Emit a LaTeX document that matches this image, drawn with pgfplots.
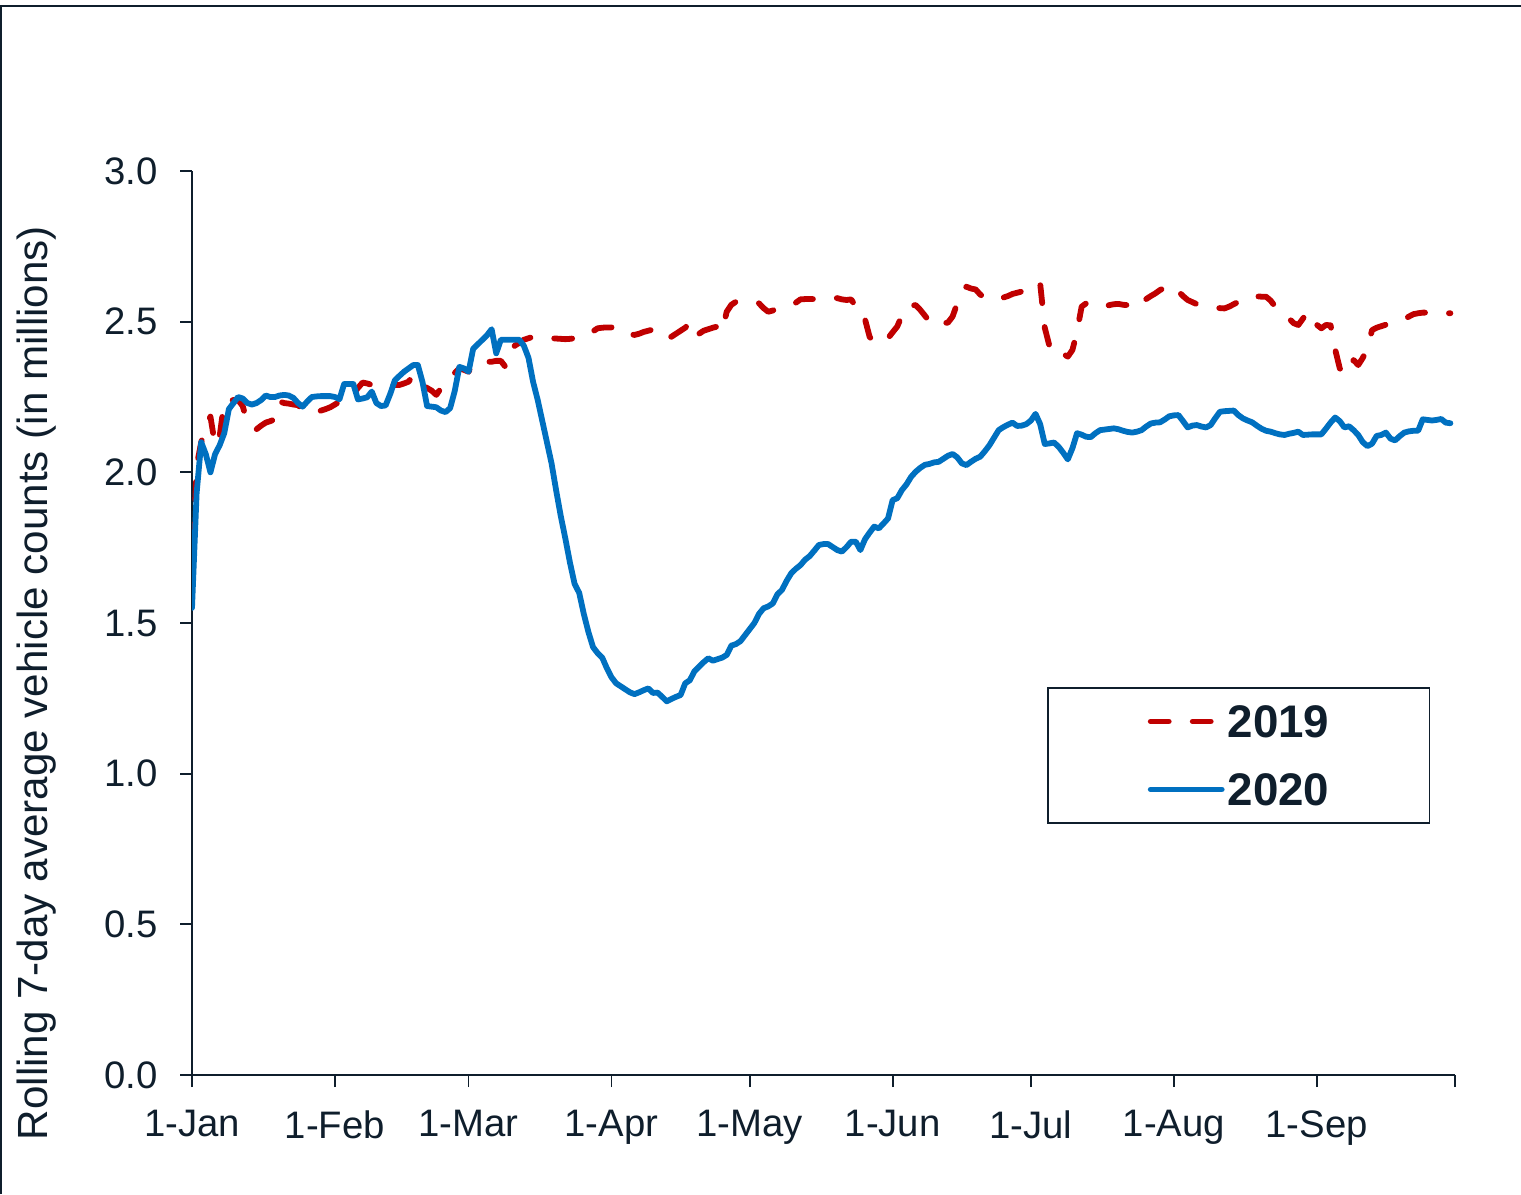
\documentclass[border=0pt]{standalone}
\usepackage{pgfplots}
\pgfplotsset{compat=1.18}
\usepackage{pgfplotstable}
\usepackage{fontspec}
\setmainfont{Liberation Sans}
\definecolor{txt}{HTML}{0F1E2C}
\definecolor{red19}{HTML}{C00000}
\definecolor{blue20}{HTML}{0070C0}

\pgfplotstableread{
day val
0 1.63
1 2.02
2 2.10
3 2.152
4 2.185
5 2.09
6 2.12
7 2.235
8 2.237
9 2.24
10 2.24
11 2.22
12 2.165
13 2.15
14 2.143
15 2.155
16 2.165
17 2.17
18 2.176
19 2.235
20 2.23
21 2.228
22 2.225
23 2.223
24 2.21
25 2.198
26 2.196
27 2.198
28 2.205
29 2.21
30 2.216
31 2.225
32 2.235
33 2.24
34 2.242
35 2.26
36 2.28
37 2.298
38 2.295
39 2.29
40 2.285
41 2.282
42 2.285
43 2.288
44 2.29
45 2.29
46 2.295
47 2.301
48 2.323
49 2.31
50 2.29
51 2.28
52 2.271
53 2.257
54 2.279
55 2.29
56 2.31
57 2.33
58 2.345
59 2.34
60 2.334
61 2.362
62 2.365
63 2.367
64 2.367
65 2.367
66 2.37
67 2.37
68 2.35
69 2.38
70 2.42
71 2.43
72 2.44
73 2.445
74 2.45
75 2.449
76 2.447
77 2.446
78 2.445
79 2.444
80 2.443
81 2.442
82 2.443
83 2.445
84 2.448
85 2.45
86 2.458
87 2.468
88 2.478
89 2.48
90 2.481
91 2.481
92 2.481
93 2.481
94 2.47
95 2.459
96 2.456
97 2.46
98 2.466
99 2.47
100 2.474
101 2.475
102 2.467
103 2.448
104 2.45
105 2.46
106 2.47
107 2.48
108 2.497
109 2.456
110 2.46
111 2.47
112 2.475
113 2.48
114 2.484
115 2.467
116 2.533
117 2.556
118 2.566
119 2.56
120 2.561
121 2.561
122 2.561
123 2.561
124 2.545
125 2.533
126 2.537
127 2.545
128 2.55
129 2.556
130 2.56
131 2.563
132 2.574
133 2.575
134 2.575
135 2.575
136 2.576
137 2.578
138 2.579
139 2.58
140 2.578
141 2.574
142 2.572
143 2.574
144 2.55
145 2.51
146 2.508
147 2.45
148 2.43
149 2.432
150 2.434
151 2.445
152 2.465
153 2.484
154 2.52
155 2.55
156 2.553
157 2.555
158 2.539
159 2.52
160 2.50
161 2.486
162 2.49
163 2.495
164 2.497
165 2.517
166 2.56
167 2.594
168 2.616
169 2.61
170 2.607
171 2.59
172 2.58
173 2.575
174 2.572
175 2.575
176 2.58
177 2.585
178 2.592
179 2.596
180 2.6
181 2.602
182 2.603
183 2.61
184 2.627
185 2.48
186 2.42
187 2.389
188 2.39
189 2.393
190 2.384
191 2.406
192 2.467
193 2.55
194 2.561
195 2.555
196 2.548
197 2.548
198 2.55
199 2.555
200 2.558
201 2.559
202 2.556
203 2.555
204 2.544
205 2.55
206 2.565
207 2.575
208 2.585
209 2.594
210 2.605
211 2.612
212 2.622
213 2.615
214 2.6
215 2.585
216 2.572
217 2.565
218 2.558
219 2.553
220 2.55
221 2.548
222 2.546
223 2.545
224 2.544
225 2.55
226 2.558
227 2.566
228 2.574
229 2.582
230 2.585
231 2.584
232 2.583
233 2.583
234 2.57
235 2.55
236 2.539
237 2.525
238 2.51
239 2.495
240 2.489
241 2.51
242 2.533
243 2.52
244 2.49
245 2.478
246 2.489
247 2.488
248 2.408
249 2.345
250 2.33
251 2.329
252 2.373
253 2.356
254 2.38
255 2.412
256 2.472
257 2.48
258 2.485
259 2.49
260 2.492
261 2.495
262 2.5
263 2.508
264 2.517
265 2.525
266 2.528
267 2.53
268 2.53
269 2.53
270 2.531
271 2.53
272 2.528
273 2.528
}\dataA

\pgfplotstableread{
day val
0 1.55
1 1.93
2 2.10
3 2.06
4 2.00
5 2.06
6 2.09
7 2.13
8 2.21
9 2.23
10 2.25
11 2.245
12 2.23
13 2.225
14 2.23
15 2.24
16 2.255
17 2.25
18 2.25
19 2.255
20 2.257
21 2.255
22 2.247
23 2.23
24 2.218
25 2.235
26 2.25
27 2.252
28 2.253
29 2.253
30 2.253
31 2.25
32 2.243
33 2.293
34 2.293
35 2.293
36 2.242
37 2.245
38 2.249
39 2.268
40 2.23
41 2.22
42 2.222
43 2.26
44 2.305
45 2.32
46 2.334
47 2.345
48 2.356
49 2.356
50 2.30
51 2.22
52 2.218
53 2.216
54 2.205
55 2.20
56 2.213
57 2.27
58 2.35
59 2.345
60 2.334
61 2.41
62 2.425
63 2.44
64 2.455
65 2.475
66 2.395
67 2.44
68 2.44
69 2.44
70 2.44
71 2.44
72 2.42
73 2.38
74 2.30
75 2.24
76 2.17
77 2.10
78 2.03
79 1.94
80 1.855
81 1.78
82 1.70
83 1.63
84 1.60
85 1.53
86 1.47
87 1.42
88 1.40
89 1.385
90 1.35
91 1.32
92 1.30
93 1.29
94 1.28
95 1.27
96 1.264
97 1.27
98 1.277
99 1.283
100 1.268
101 1.269
102 1.255
103 1.24
104 1.248
105 1.255
106 1.261
107 1.30
108 1.31
109 1.34
110 1.355
111 1.37
112 1.383
113 1.375
114 1.38
115 1.385
116 1.394
117 1.425
118 1.43
119 1.44
120 1.46
121 1.48
122 1.50
123 1.53
124 1.549
125 1.555
126 1.565
127 1.595
128 1.61
129 1.64
130 1.665
131 1.68
132 1.692
133 1.71
134 1.722
135 1.74
136 1.759
137 1.762
138 1.762
139 1.752
140 1.742
141 1.737
142 1.752
143 1.77
144 1.77
145 1.742
146 1.778
147 1.80
148 1.82
149 1.814
150 1.83
151 1.847
152 1.908
153 1.914
154 1.941
155 1.96
156 1.985
157 2.002
158 2.015
159 2.025
160 2.028
161 2.033
162 2.035
163 2.045
164 2.055
165 2.061
166 2.05
167 2.03
168 2.024
169 2.035
170 2.045
171 2.052
172 2.07
173 2.09
174 2.115
175 2.14
176 2.15
177 2.158
178 2.165
179 2.154
180 2.155
181 2.16
182 2.172
183 2.194
184 2.16
185 2.094
186 2.096
187 2.099
188 2.085
189 2.065
190 2.043
191 2.08
192 2.13
193 2.125
194 2.118
195 2.117
196 2.13
197 2.14
198 2.142
199 2.144
200 2.146
201 2.143
202 2.138
203 2.134
204 2.132
205 2.135
206 2.14
207 2.152
208 2.162
209 2.165
210 2.166
211 2.175
212 2.186
213 2.189
214 2.19
215 2.17
216 2.149
217 2.155
218 2.157
219 2.152
220 2.149
221 2.157
222 2.18
223 2.201
224 2.203
225 2.204
226 2.205
227 2.19
228 2.179
229 2.172
230 2.166
231 2.155
232 2.145
233 2.138
234 2.135
235 2.13
236 2.126
237 2.124
238 2.128
239 2.131
240 2.135
241 2.124
242 2.125
243 2.126
244 2.126
245 2.126
246 2.145
247 2.165
248 2.182
249 2.17
250 2.149
251 2.153
252 2.14
253 2.124
254 2.10
255 2.087
256 2.095
257 2.121
258 2.124
259 2.132
260 2.112
261 2.106
262 2.12
263 2.132
264 2.136
265 2.138
266 2.138
267 2.176
268 2.174
269 2.172
270 2.174
271 2.177
272 2.165
273 2.163
}\dataB

\begin{document}
\begin{tikzpicture}
\useasboundingbox (0,0) rectangle (15.21cm,11.94cm);
\draw[txt, line width=0.2mm] (0.01cm,0) -- (0.01cm,11.88cm) -- (15.21cm,11.88cm);
\begin{axis}[
  at={(1.92cm,1.19cm)}, anchor=south west,
  scale only axis,
  width=12.63cm, height=9.04cm,
  xmin=0, xmax=274, ymin=0, ymax=3,
  axis x line*=bottom, axis y line*=left,
  axis line style={txt, line width=0.17mm},
  tick align=outside,
  major tick length=1.2mm,
  tick style={txt, line width=0.17mm},
  xtick={0,31,60,91,121,152,182,213,244,274},
  xticklabels={1-Jan,1-Feb,1-Mar,1-Apr,1-May,1-Jun,1-Jul,1-Aug,1-Sep,{}},
  ytick={0,0.5,1,1.5,2,2.5,3},
  yticklabel style={/pgf/number format/fixed, /pgf/number format/fixed zerofill, /pgf/number format/precision=1, xshift=-1mm},
  /pgf/number format/assume math mode=true,
  ticklabel style={font=\fontsize{10.9}{12}\selectfont, text=txt},
  xticklabel style={yshift=-1.1mm},
  legend style={at={(0.677,0.429)}, anchor=north west,
    draw=txt, line width=0.15mm, inner xsep=10mm, inner ysep=0.2mm,
    row sep=0.5mm,
    font=\fontsize{13}{15}\selectfont\bfseries, text=txt,
    nodes={inner xsep=0pt, inner ysep=1.5mm, text height=3.3mm, text depth=0pt},
    /tikz/every odd column/.append style={column sep=0.3mm}},
  legend cell align=left,
  legend image code/.code={\draw[#1] (0mm,0mm) -- (7.1mm,0mm);},
]
\addplot[red19, line width=0.58mm, line cap=round, line join=round, dash pattern=on 1.8mm off 2.4mm] table[x=day,y=val] {\dataA};
\addlegendentry{2019}
\addplot[blue20, line width=0.58mm, line cap=round, line join=round] table[x=day,y=val] {\dataB};
\addlegendentry{2020}
\end{axis}
\node[rotate=90, text=txt, font=\fontsize{12}{14}\selectfont] at (0.37cm,5.11cm) {Rolling 7-day average vehicle counts (in millions)};
\end{tikzpicture}
\end{document}
